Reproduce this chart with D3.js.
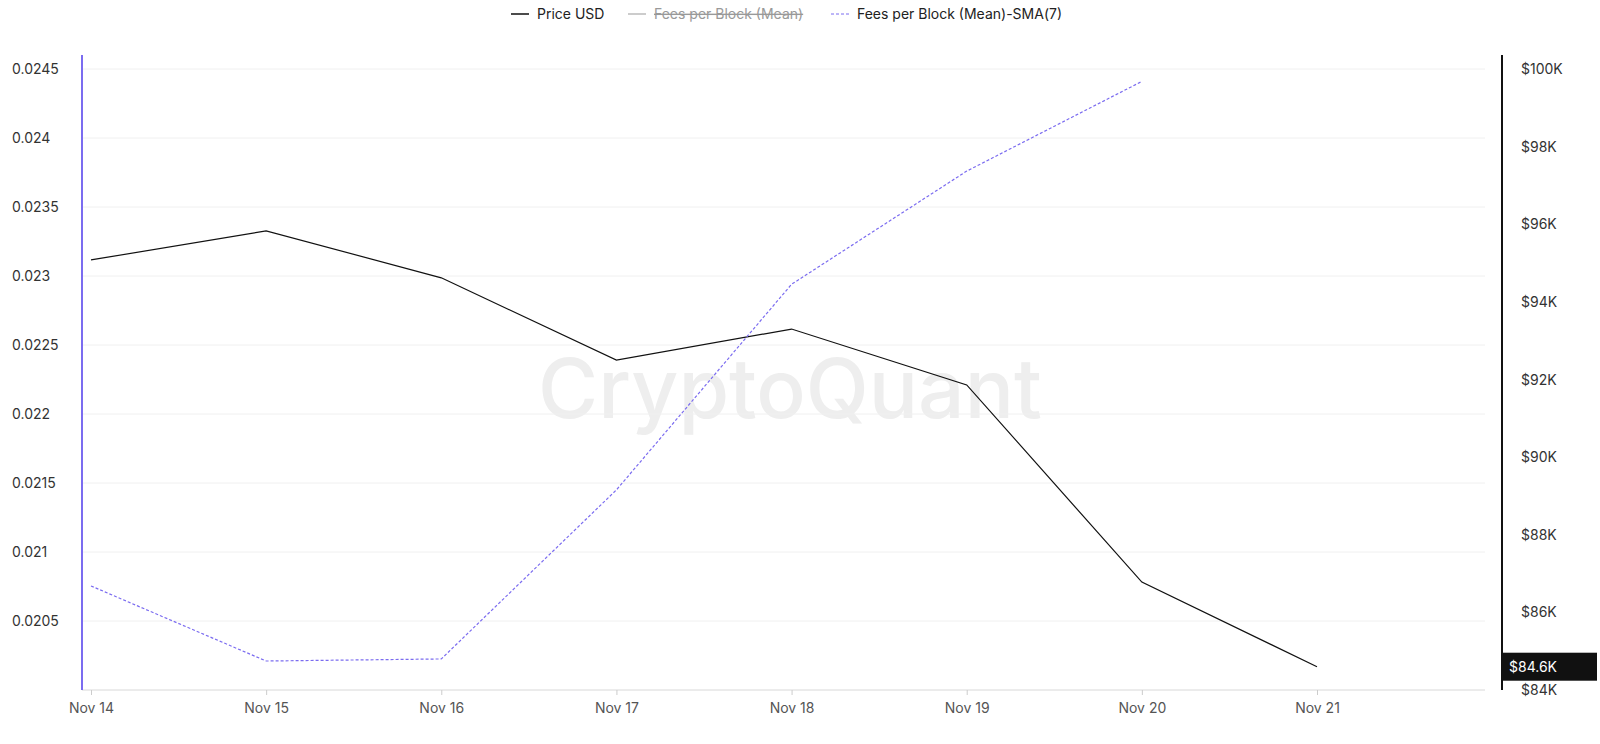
<!DOCTYPE html>
<html><head><meta charset="utf-8">
<script src="https://cdn.jsdelivr.net/npm/d3@7"></script>
<style>body{margin:0;background:#fff;font-family:Inter,"Noto Sans",sans-serif}</style>
</head><body><svg id="c" width="1600" height="744"></svg>
<script>
const dates = ["Nov 14","Nov 15","Nov 16","Nov 17","Nov 18","Nov 19","Nov 20","Nov 21"];
const priceUSD = [95.08,95.83,94.62,92.5,93.3,91.86,86.78,84.6];
const feesSMA7 = [0.020754,0.02021,0.020225,0.02145,0.02294,0.02376,0.02441];
const leftTicks = [0.0205,0.021,0.0215,0.022,0.0225,0.023,0.0235,0.024,0.0245];
const rightTicks = [84,86,88,90,92,94,96,98,100];

const svg = d3.select('#c');
const x = d3.scalePoint().domain(dates).range([91,1317]);
const yL = d3.scaleLinear().domain([0.02,0.0245]).range([690,69]);
const yR = d3.scaleLinear().domain([84,100]).range([690,69]);

// watermark
svg.append('text').attr('x',790).attr('y',418).attr('text-anchor','middle')
  .attr('font-size',82).attr('fill','#eeeeee').attr('font-weight',500).text('CryptoQuant');

// grid
svg.append('g').selectAll('line').data(leftTicks).join('line')
  .attr('x1',82).attr('x2',1485).attr('y1',d=>yL(d)).attr('y2',d=>yL(d))
  .attr('stroke','#f0f0f0');
svg.append('line').attr('x1',82).attr('x2',1485).attr('y1',690).attr('y2',690).attr('stroke','#d8d8d8');

// left axis
svg.append('line').attr('x1',82).attr('x2',82).attr('y1',55).attr('y2',690).attr('stroke','#7b6cf0').attr('stroke-width',2);
svg.append('g').selectAll('text').data(leftTicks).join('text')
  .attr('x',12).attr('y',d=>yL(d)+5).attr('font-size',14).attr('fill','#333').text(d=>d);

// right axis
svg.append('line').attr('x1',1502).attr('x2',1502).attr('y1',55).attr('y2',690).attr('stroke','#111').attr('stroke-width',2);
svg.append('g').selectAll('text').data(rightTicks).join('text')
  .attr('x',1521).attr('y',d=>yR(d)+5).attr('font-size',14).attr('fill','#333').text(d=>'$'+d+'K');

// x axis
const xa = svg.append('g').attr('transform','translate(0,690)').call(d3.axisBottom(x).tickSize(5).tickPadding(8));
xa.select('.domain').remove();
xa.selectAll('line').attr('stroke','#ccc');
xa.selectAll('text').attr('font-size',14).attr('fill','#555').attr('font-family','Inter,sans-serif');

// lines
svg.append('path').datum(priceUSD).attr('fill','none').attr('stroke','#111').attr('stroke-width',1.2)
  .attr('d',d3.line().x((d,i)=>x(dates[i])).y(d=>yR(d)));
svg.append('path').datum(feesSMA7).attr('fill','none').attr('stroke','#7b6cf0').attr('stroke-width',1.2)
  .attr('stroke-dasharray','3,2')
  .attr('d',d3.line().x((d,i)=>x(dates[i])).y(d=>yL(d)));

// last price label
const last = priceUSD[priceUSD.length-1];
svg.append('rect').attr('x',1503).attr('y',yR(last)-14).attr('width',94).attr('height',28).attr('fill','#111');
svg.append('text').attr('x',1509).attr('y',yR(last)+5).attr('font-size',14).attr('fill','#fff').text('$'+last+'K');

// legend
const lg = svg.append('g').attr('font-size',14);
lg.append('line').attr('x1',511).attr('x2',529).attr('y1',14).attr('y2',14).attr('stroke','#111').attr('stroke-width',1.5);
lg.append('text').attr('x',537).attr('y',19).attr('fill','#222').text('Price USD');
lg.append('line').attr('x1',628).attr('x2',646).attr('y1',14).attr('y2',14).attr('stroke','#ccc').attr('stroke-width',2);
lg.append('text').attr('x',654).attr('y',19).attr('fill','#999').attr('text-decoration','line-through').text('Fees per Block (Mean)');
lg.append('line').attr('x1',831).attr('x2',849).attr('y1',14).attr('y2',14).attr('stroke','#7b6cf0').attr('stroke-dasharray','3,2');
lg.append('text').attr('x',857).attr('y',19).attr('fill','#222').text('Fees per Block (Mean)-SMA(7)');
</script></body></html>
